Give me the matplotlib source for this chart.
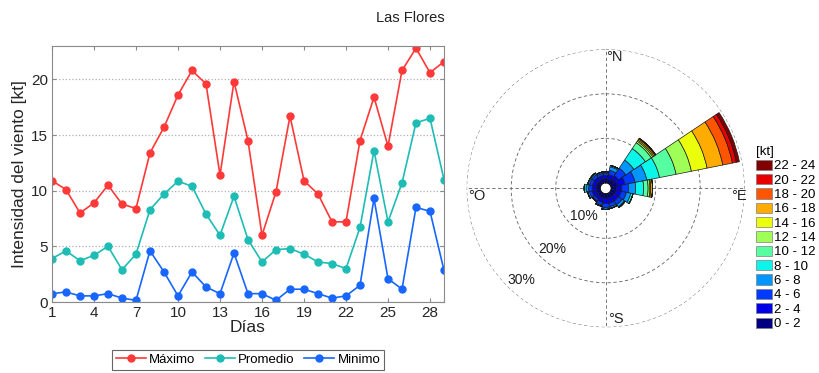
import numpy as np
import matplotlib
matplotlib.use("Agg")
import matplotlib.pyplot as plt
from matplotlib.patches import Patch

plt.rcParams['font.family'] = ['Liberation Sans', 'DejaVu Sans']

# --- serie diaria de intensidad del viento [kt] ---
dias = np.arange(1, 30)
maximo = [10.9, 10.1, 8.0, 8.9, 10.5, 8.8, 8.4, 13.4, 15.7, 18.6, 20.8, 19.6, 11.4, 19.8,
          14.5, 6.0, 9.9, 16.7, 10.9, 9.7, 7.2, 7.2, 14.5, 18.4, 14.0, 20.8, 22.8, 20.6, 21.6]
promedio = [3.9, 4.6, 3.7, 4.2, 5.0, 2.9, 4.3, 8.3, 9.7, 10.85, 10.4, 7.9, 6.0, 9.5,
            5.6, 3.6, 4.7, 4.8, 4.3, 3.6, 3.45, 3.0, 6.7, 13.6, 7.2, 10.7, 16.1, 16.5, 11.0]
minimo = [0.75, 0.9, 0.55, 0.55, 0.75, 0.35, 0.15, 4.6, 2.7, 0.55, 2.7, 1.35, 0.75, 4.4,
          0.75, 0.75, 0.15, 1.15, 1.15, 0.75, 0.35, 0.55, 1.5, 9.3, 2.1, 1.15, 8.5, 8.15, 2.85]

# --- rosa de vientos: frecuencia [%] por dirección y rango de velocidad ---
direcciones = np.arange(0, 360, 22.5)
rangos = ['0 - 2', '2 - 4', '4 - 6', '6 - 8', '8 - 10', '10 - 12',
          '12 - 14', '14 - 16', '16 - 18', '18 - 20', '20 - 22', '22 - 24']
frecuencias = [
    [0.9, 0.8, 0.5, 0.3, 0, 0, 0, 0, 0, 0, 0, 0],            # N
    [0.9, 1.0, 1.0, 0.8, 0.3, 0, 0, 0, 0, 0, 0, 0],          # NNE
    [1.2, 1.0, 2.0, 2.2, 3.1, 1.6, 0.4, 0.3, 0.3, 0.2, 0, 0],  # NE
    [1.45, 1.75, 2.3, 2.7, 2.9, 3.8, 3.5, 3.6, 3.6, 2.2, 0.9, 0.7],  # ENE
    [1.2, 1.2, 1.5, 1.6, 1.8, 1.0, 0.4, 0.2, 0.4, 0, 0, 0],  # E
    [1.1, 1.2, 1.2, 1.0, 0.5, 0, 0, 0, 0, 0, 0, 0],          # ESE
    [1.0, 1.2, 1.0, 0.6, 0.2, 0, 0, 0, 0, 0, 0, 0],          # SE
    [1.0, 1.2, 0.8, 0.4, 0, 0, 0, 0, 0, 0, 0, 0],            # SSE
    [1.0, 1.2, 0.9, 0.4, 0, 0, 0, 0, 0, 0, 0, 0],            # S
    [1.0, 1.0, 0.6, 0.3, 0, 0, 0, 0, 0, 0, 0, 0],            # SSW
    [0.9, 0.8, 0.5, 0.2, 0, 0, 0, 0, 0, 0, 0, 0],            # SW
    [0.9, 1.0, 0.6, 0.4, 0, 0, 0, 0, 0, 0, 0, 0],            # WSW
    [0.9, 0.9, 0.8, 0.6, 0.4, 0, 0, 0, 0, 0, 0, 0],          # W
    [0.9, 0.9, 0.7, 0.4, 0, 0, 0, 0, 0, 0, 0, 0],            # WNW
    [0.9, 0.9, 0.7, 0.4, 0, 0, 0, 0, 0, 0, 0, 0],            # NW
    [0.9, 0.8, 0.5, 0.3, 0, 0, 0, 0, 0, 0, 0, 0],            # NNW
]

fig = plt.figure(figsize=(8.2, 3.73), dpi=100)
fig.text(0.5, 0.952, 'Las Flores', ha='center', va='center', fontsize=10.5, color='#202020')

# === serie temporal ===
ax = fig.add_axes([52 / 820, 1 - 302 / 373, 392 / 820, 256 / 373])
estilo = dict(marker='o', markersize=5, linewidth=1.2)
ax.plot(dias, maximo, color='#ff3838', label='Máximo', **estilo)
ax.plot(dias, promedio, color='#1dbdb5', label='Promedio', **estilo)
ax.plot(dias, minimo, color='#1766ff', label='Minimo', **estilo)
ax.set_xlim(1, 29)
ax.set_ylim(0, 23)
ax.set_xticks(range(1, 29, 3))
ax.set_yticks([0, 5, 10, 15, 20])
ax.yaxis.grid(True, linestyle=':', color='#b0b0b0', linewidth=0.9)
for s in ax.spines.values():
    s.set_color('#8a8a8a')
ax.tick_params(direction='in', top=True, right=True, length=3, color='#8a8a8a',
               labelsize=11, labelcolor='#262626', pad=3)
ax.set_xlabel('Días', fontsize=12.5, color='#262626', labelpad=0)
ax.set_ylabel('Intensidad del viento [kt]', fontsize=12.5, color='#262626', labelpad=3)
leg = ax.legend(loc='upper center', bbox_to_anchor=(0.5, -0.16), ncol=3, fontsize=9.5,
                frameon=True, fancybox=False, edgecolor='#404040', handlelength=2.3,
                handletextpad=0.25, columnspacing=0.7, borderpad=0.3)
leg.get_frame().set_linewidth(0.8)

# === rosa de vientos ===
colores = plt.cm.jet(np.linspace(0, 1, len(rangos)))
rax = fig.add_axes([466.7 / 820, 1 - 327.3 / 373, 278 / 820, 278 / 373], projection='polar')
rax.set_theta_zero_location('N')
rax.set_theta_direction(-1)
rax.set_rorigin(-1.23)
theta = np.deg2rad(direcciones)
ancho = np.deg2rad(22.5)
tabla = np.array(frecuencias)
base = np.zeros(len(direcciones))
for k in range(len(rangos)):
    alto = tabla[:, k]
    rax.bar(theta, alto, width=ancho, bottom=base, color=colores[k],
            edgecolor='#1a1a1a', linewidth=0.5, zorder=3)
    base = base + alto
rax.set_ylim(0, 30)
rax.set_yticks([10, 20, 30])
rax.set_yticklabels([])
rax.set_xticks(np.deg2rad([0, 90, 180, 270]))
rax.set_xticklabels([])
rax.grid(True, linestyle=(0, (4, 3)), color='#606060', linewidth=0.6)
rax.spines['polar'].set_visible(False)
rax.tick_params(length=0)

for ang, r, txt in [(4, 28.3, '°N'), (93.3, 28.8, '°E'), (175.5, 28.3, '°S'), (266.6, 27.8, '°O')]:
    rax.text(np.deg2rad(ang), r, txt, ha='center', va='center', fontsize=10.5, color='#202020')
for ang, r, txt in [(218, 6.6, '10%'), (221.5, 16.9, '20%'), (222.7, 26.7, '30%')]:
    rax.text(np.deg2rad(ang), r, txt, ha='center', va='center', fontsize=10, color='#202020')

handles = [Patch(facecolor=colores[k], edgecolor='#808080', linewidth=0.5) for k in range(len(rangos))][::-1]
lg = fig.legend(handles, rangos[::-1], loc='upper left', bbox_to_anchor=(756 / 820, 1 - 146 / 373),
                frameon=False, title='[kt]', alignment='left', fontsize=9.5, title_fontsize=9.5,
                handlelength=1.2, handleheight=0.8, handletextpad=0.2, labelspacing=0.13,
                borderpad=0, borderaxespad=0)

fig.savefig('out.png', dpi=100)
